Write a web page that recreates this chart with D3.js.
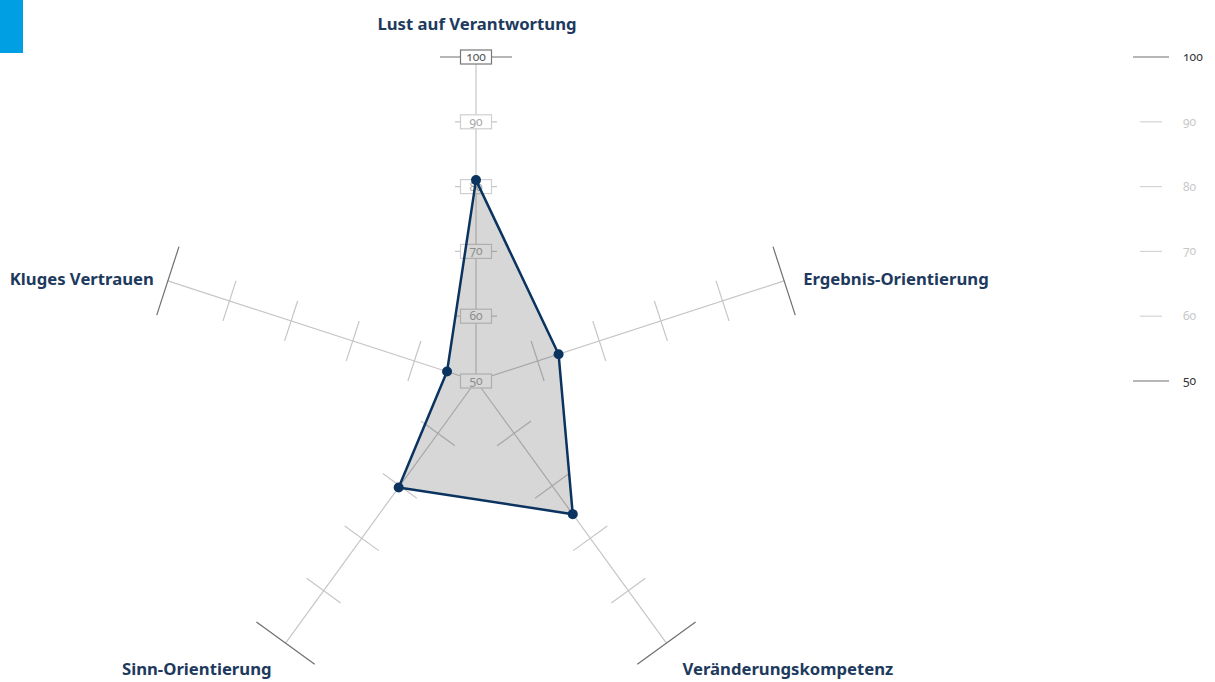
<!DOCTYPE html>
<html>
<head>
<meta charset="utf-8">
<script src="https://cdn.jsdelivr.net/npm/d3@7.9.0/dist/d3.min.js"></script>
<style>
  body { margin: 0; background: #fff; }
  svg { display: block; font-family: "Noto Sans", "Open Sans", sans-serif; }
  .num { font-variant-numeric: oldstyle-nums; font-feature-settings: "onum" 1; }
</style>
</head>
<body>
<div id="chart"></div>
<script>
const axesNames = ["Lust auf Verantwortung", "Ergebnis-Orientierung", "Veränderungskompetenz", "Sinn-Orientierung", "Kluges Vertrauen"];
const values = [81, 63.4, 75.4, 70.3, 54.7];
const tickValues = [50, 60, 70, 80, 90, 100];

const width = 1215, height = 682;
const cx = 476, cy = 381;

const svg = d3.select("#chart").append("svg")
  .attr("width", width)
  .attr("height", height);

// blue corner mark
svg.append("rect")
  .attr("x", 0).attr("y", 0)
  .attr("width", 23).attr("height", 53)
  .attr("fill", "#009fe3");

const r = d3.scaleLinear().domain([50, 100]).range([0, 324]);
const angle = i => (i * 72 - 90) * Math.PI / 180;
const pt = (i, v) => [cx + r(v) * Math.cos(angle(i)), cy + r(v) * Math.sin(angle(i))];

const grid = svg.append("g");

axesNames.forEach((name, i) => {
  const a = angle(i);
  const [x1, y1] = pt(i, 100);
  grid.append("line")
    .attr("x1", cx).attr("y1", cy).attr("x2", x1).attr("y2", y1)
    .attr("stroke", "#c6c6c6").attr("stroke-width", 1.2);

  // perpendicular ticks
  tickValues.filter(t => t > 50).forEach(t => {
    const [tx, ty] = pt(i, t);
    const h = t === 100 ? 36 : 21;
    const px = -Math.sin(a), py = Math.cos(a);
    grid.append("line")
      .attr("x1", tx - px * h).attr("y1", ty - py * h)
      .attr("x2", tx + px * h).attr("y2", ty + py * h)
      .attr("stroke", t === 100 ? "#6e6e6e" : "#c6c6c6")
      .attr("stroke-width", 1.2);
  });
});

// value boxes on the top axis
const boxes = svg.append("g").attr("class", "num");
tickValues.forEach(t => {
  const [tx, ty] = pt(0, t);
  const dark = t === 100;
  boxes.append("rect")
    .attr("x", tx - 15.5).attr("y", ty - 7)
    .attr("width", 31).attr("height", 14)
    .attr("fill", "#fff")
    .attr("stroke", dark ? "#777" : "#cfcfcf")
    .attr("stroke-width", 1.2);
  boxes.append("text")
    .attr("x", tx).attr("y", ty + 4)
    .attr("text-anchor", "middle")
    .attr("font-size", 12)
    .attr("fill", dark ? "#555" : "#a8a8a8")
    .text(t);
});

// data polygon
const poly = values.map((v, i) => pt(i, v));
svg.append("path")
  .attr("d", d3.line()(poly) + "Z")
  .attr("fill", "rgba(0,0,0,0.155)")
  .attr("stroke", "#0b3360")
  .attr("stroke-width", 2.5)
  .attr("stroke-linejoin", "round");

svg.append("g").selectAll("circle")
  .data(poly)
  .join("circle")
  .attr("cx", d => d[0]).attr("cy", d => d[1])
  .attr("r", 5)
  .attr("fill", "#0b3360");

// axis labels
const labelPos = [
  { dx: 1, dy: -27, anchor: "middle" },
  { dx: 19, dy: 4, anchor: "start" },
  { dx: 16, dy: 32, anchor: "start" },
  { dx: -14, dy: 32, anchor: "end" },
  { dx: -14, dy: 4, anchor: "end" }
];
axesNames.forEach((name, i) => {
  const [x, y] = pt(i, 100);
  svg.append("text")
    .attr("x", x + labelPos[i].dx)
    .attr("y", y + labelPos[i].dy)
    .attr("text-anchor", labelPos[i].anchor)
    .attr("font-size", 16.7)
    .attr("font-weight", 700)
    .attr("fill", "#1d3a5e")
    .text(name);
});

// scale legend on the right
const legend = svg.append("g").attr("class", "num");
tickValues.forEach(t => {
  const y = cy - r(t);
  const strong = t === 100 || t === 50;
  legend.append("line")
    .attr("x1", strong ? 1133 : 1140).attr("x2", strong ? 1169 : 1162)
    .attr("y1", y).attr("y2", y)
    .attr("stroke", strong ? "#6e6e6e" : "#d4d4d4")
    .attr("stroke-width", 1.2);
  legend.append("text")
    .attr("x", 1183).attr("y", y + 4)
    .attr("font-size", 12)
    .attr("fill", strong ? "#333" : "#c8c8c8")
    .text(t);
});
</script>
</body>
</html>
